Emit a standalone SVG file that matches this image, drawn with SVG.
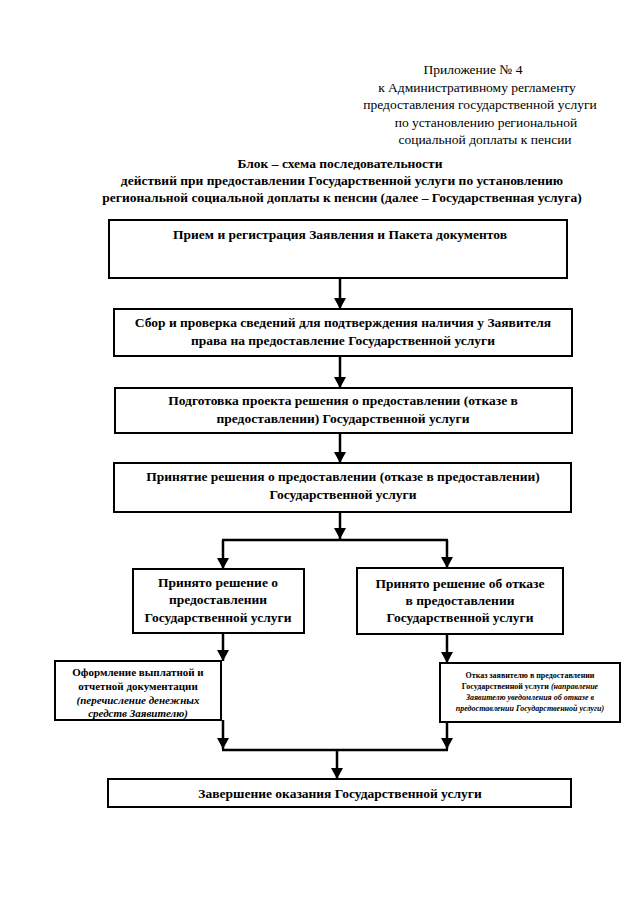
<svg xmlns="http://www.w3.org/2000/svg" width="640" height="905" viewBox="0 0 640 905" font-family="'Liberation Serif', 'Times New Roman', serif">
<defs>
<marker id="ah" markerWidth="11" markerHeight="12" refX="11" refY="6" orient="auto" markerUnits="userSpaceOnUse" viewBox="0 0 11 12">
<path d="M0,0 L11,6 L0,12 Z" fill="#000"/>
</marker>
<style>
text{font-family:"Liberation Serif","Times New Roman",serif;fill:#000}
.hdr{font-size:13.5px;text-anchor:middle}
.ttl{font-size:13.5px;font-weight:bold;text-anchor:middle}
.b{font-size:13.5px;font-weight:bold;text-anchor:middle}
.s{font-size:11px;font-weight:bold;text-anchor:middle}
.t{font-size:8px;font-weight:bold;text-anchor:middle}
.i{font-style:italic}
.box{fill:#fff;stroke:#000;stroke-width:2}
.c line{stroke:#000;stroke-width:2.5;fill:none}
</style>
</defs>
<rect x="0" y="0" width="640" height="905" fill="#fff"/>
<g id="header">
<text class="hdr" x="473" y="74">Приложение № 4</text>
<text class="hdr" x="477" y="92">к Административному регламенту</text>
<text class="hdr" x="480" y="109">предоставления государственной услуги</text>
<text class="hdr" x="486" y="127">по установлению региональной</text>
<text class="hdr" x="485" y="144">социальной доплаты к пенсии</text>
</g>
<g id="title">
<text class="ttl" x="340" y="168">Блок – схема последовательности</text>
<text class="ttl" x="342" y="185">действий при предоставлении Государственной услуги по установлению</text>
<text class="ttl" x="342" y="202">региональной социальной доплаты к пенсии (далее – Государственная услуга)</text>
</g>
<g class="c" id="connectors">
<line x1="340" y1="278" x2="340" y2="309" marker-end="url(#ah)"/>
<line x1="340" y1="356" x2="340" y2="388" marker-end="url(#ah)"/>
<line x1="340" y1="433" x2="340" y2="463" marker-end="url(#ah)"/>
<line x1="340" y1="512" x2="340" y2="539" marker-end="url(#ah)"/>
<line x1="222" y1="540" x2="448" y2="540"/>
<line x1="223" y1="540" x2="223" y2="569" marker-end="url(#ah)"/>
<line x1="447" y1="540" x2="447" y2="568" marker-end="url(#ah)"/>
<line x1="223" y1="633" x2="223" y2="661" marker-end="url(#ah)"/>
<line x1="447" y1="634" x2="447" y2="663" marker-end="url(#ah)"/>
<line x1="223" y1="720" x2="223" y2="749" marker-end="url(#ah)"/>
<line x1="447" y1="722" x2="447" y2="749" marker-end="url(#ah)"/>
<line x1="222" y1="750" x2="448" y2="750"/>
<line x1="337" y1="750" x2="337" y2="779" marker-end="url(#ah)"/>
</g>
<g id="n1">
<rect class="box" x="109" y="220" width="458" height="58"/>
<text class="b" x="340" y="239">Прием и регистрация Заявления и Пакета документов</text>
</g>
<g id="n2">
<rect class="box" x="114" y="309" width="458" height="47"/>
<text class="b" x="343" y="327">Сбор и проверка сведений для подтверждения наличия у Заявителя</text>
<text class="b" x="343" y="345">права  на предоставление Государственной услуги</text>
</g>
<g id="n3">
<rect class="box" x="115" y="388" width="457" height="45"/>
<text class="b" x="343" y="405">Подготовка проекта решения о предоставлении (отказе в</text>
<text class="b" x="343" y="423">предоставлении) Государственной услуги</text>
</g>
<g id="n4">
<rect class="box" x="114" y="463" width="457" height="49"/>
<text class="b" x="343" y="481">Принятие решения о предоставлении (отказе в предоставлении)</text>
<text class="b" x="343" y="499">Государственной услуги</text>
</g>
<g id="n5">
<rect class="box" x="133" y="569" width="171" height="64"/>
<text class="b" x="218" y="587">Принято решение о</text>
<text class="b" x="218" y="604">предоставлении</text>
<text class="b" x="218" y="622">Государственной услуги</text>
</g>
<g id="n6">
<rect class="box" x="357" y="568" width="206" height="66"/>
<text class="b" x="460" y="588">Принято решение об отказе</text>
<text class="b" x="460" y="605">в  предоставлении</text>
<text class="b" x="460" y="622">Государственной услуги</text>
</g>
<g id="n7">
<rect class="box" x="55" y="661" width="166" height="59"/>
<text class="s" x="138" y="676">Оформление выплатной и</text>
<text class="s" x="138" y="690">отчетной документации</text>
<text class="s i" x="138" y="704">(перечисление денежных</text>
<text class="s i" x="138" y="717">средств Заявителю)</text>
</g>
<g id="n8">
<rect class="box" x="440" y="663" width="180" height="59"/>
<text class="t" x="530" y="678">Отказ заявителю в предоставлении</text>
<text class="t" x="530" y="689">Государственной услуги <tspan class="i">(направление</tspan></text>
<text class="t i" x="530" y="700">Заявителю уведомления об отказе в</text>
<text class="t i" x="530" y="711">предоставлении Государственной услуги)</text>
</g>
<g id="n9">
<rect class="box" x="108" y="779" width="463" height="28"/>
<text class="b" x="340" y="798">Завершение оказания Государственной услуги</text>
</g>
</svg>
